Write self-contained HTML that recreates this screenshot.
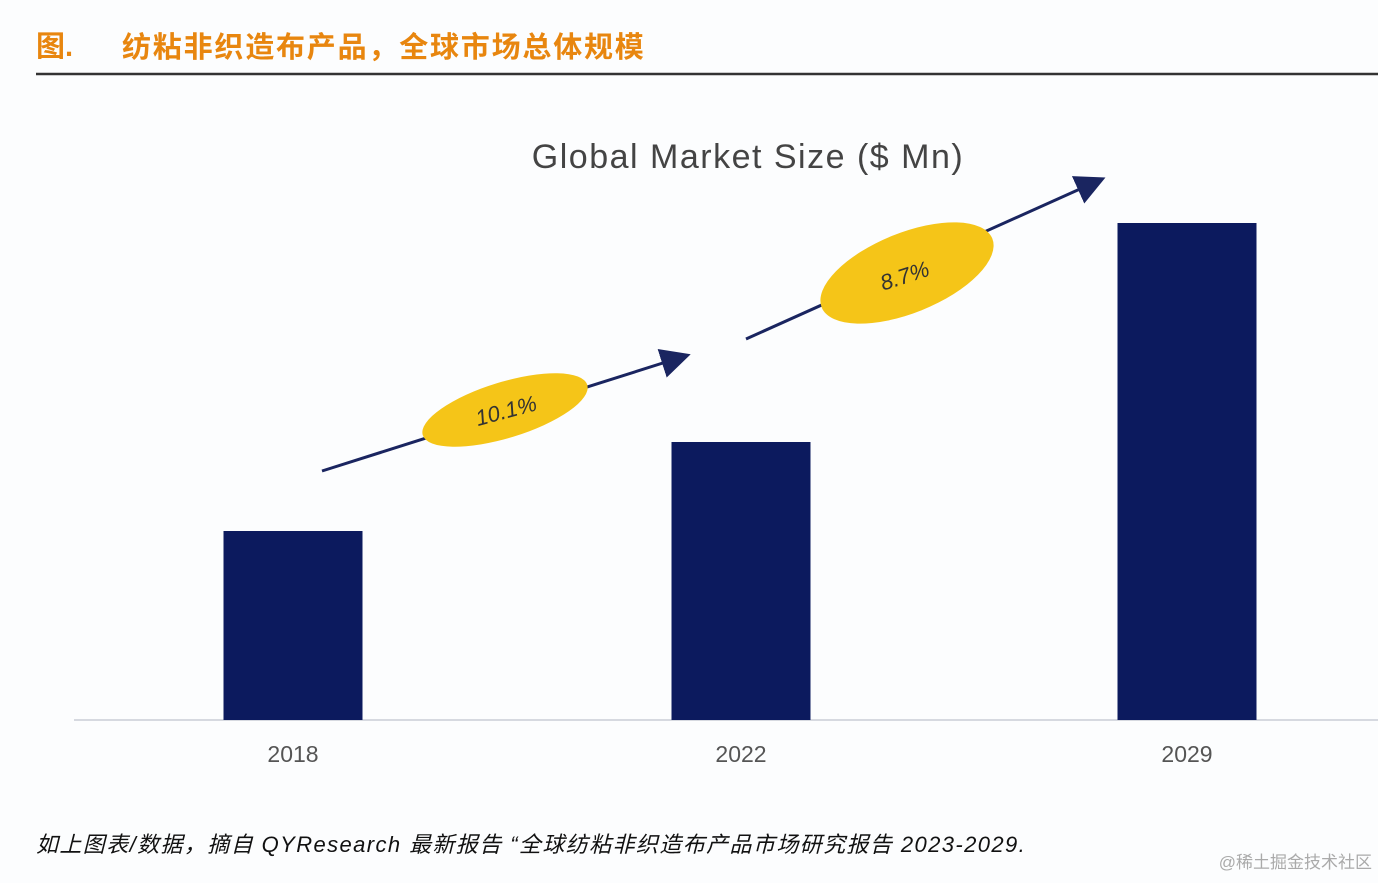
<!DOCTYPE html>
<html><head><meta charset="utf-8"><style>
body{margin:0;width:1378px;height:878px;background:#fcfdfe;overflow:hidden;font-family:"Liberation Sans","Noto Sans CJK SC",sans-serif;}
</style></head><body>
<svg width="1378" height="878" xmlns="http://www.w3.org/2000/svg">
<text x="36" y="56" font-size="29" font-weight="bold" fill="#e8860f" font-family="Liberation Sans,'Noto Sans CJK SC',sans-serif">图.</text>
<text x="122" y="57" font-size="29" font-weight="bold" fill="#e8860f" letter-spacing="1.8" font-family="Liberation Sans,'Noto Sans CJK SC',sans-serif">纺粘非织造布产品，全球市场总体规模</text>
<line x1="36" y1="74" x2="1378" y2="74" stroke="#333" stroke-width="2.5"/>
<text x="748" y="168" font-size="34" fill="#444" text-anchor="middle" letter-spacing="1.5" font-family="Liberation Sans,sans-serif">Global Market Size ($ Mn)</text>
<line x1="74" y1="720" x2="1378" y2="720" stroke="#d6d9e0" stroke-width="2"/>
<g id="bars"></g>
<g id="labels"></g>
<defs><marker id="ah" markerWidth="10" markerHeight="10" refX="8" refY="5" orient="auto"><path d="M0,0 L10,5 L0,10 z" fill="#1a2560"/></marker></defs>
<line x1="322" y1="471" x2="685" y2="356" stroke="#1a2560" stroke-width="3" marker-end="url(#ah)"/>
<ellipse cx="505" cy="410" rx="86" ry="28" fill="#f5c518" transform="rotate(-17 505 410)"/>
<text x="508" y="418" font-size="22" fill="#333" text-anchor="middle" transform="rotate(-15 508 418)" font-style="italic">10.1%</text>
<line x1="746" y1="339" x2="1100" y2="180" stroke="#1a2560" stroke-width="3" marker-end="url(#ah)"/>
<ellipse cx="907" cy="273" rx="92" ry="40" fill="#f5c518" transform="rotate(-22 907 273)"/>
<text x="907" y="283" font-size="22" fill="#333" text-anchor="middle" transform="rotate(-18 907 283)" font-style="italic">8.7%</text>
<text x="36" y="852" font-size="22" font-style="italic" fill="#111" letter-spacing="1.4" font-family="Liberation Sans,'Noto Sans CJK SC',sans-serif">如上图表/数据，摘自 QYResearch 最新报告 “全球纺粘非织造布产品市场研究报告 2023-2029.</text>
<text x="1372" y="868" font-size="17" fill="#aaa" text-anchor="end" font-family="Liberation Sans,'Noto Sans CJK SC',sans-serif">@稀土掘金技术社区</text>
</svg>
<script>
const categories=["2018","2022","2029"];
const values=[1890,2780,4970];
const baseY=720, scale=0.1, barW=139;
const centers=[293,741,1187];
function yScale(v){return baseY-v*scale;}
const ns="http://www.w3.org/2000/svg";
const bars=document.getElementById('bars'),labels=document.getElementById('labels');
categories.forEach((c,i)=>{
 const r=document.createElementNS(ns,'rect');
 r.setAttribute('x',centers[i]-barW/2);r.setAttribute('y',yScale(values[i]));
 r.setAttribute('width',barW);r.setAttribute('height',baseY-yScale(values[i]));
 r.setAttribute('fill','#0c1a5e');
 
 
 bars.appendChild(r);
 const t=document.createElementNS(ns,'text');
 t.setAttribute('x',centers[i]);t.setAttribute('y',762);t.setAttribute('text-anchor','middle');
 t.setAttribute('font-size','23');t.setAttribute('fill','#555');t.textContent=c;
 
 
 labels.appendChild(t);
});
</script>
</body></html>
